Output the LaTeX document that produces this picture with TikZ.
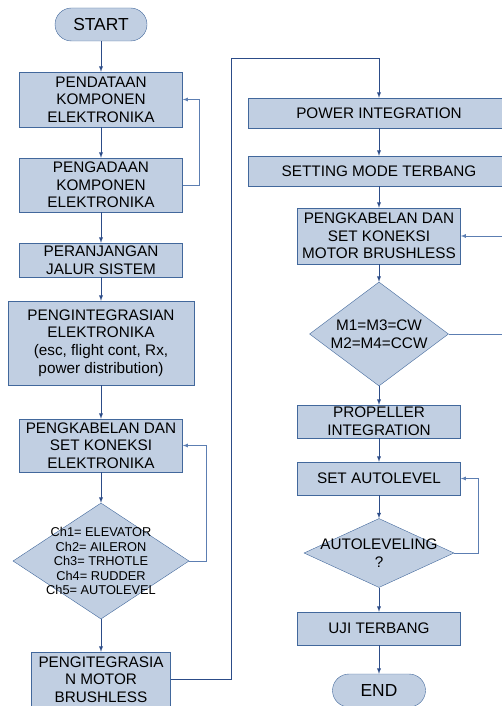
\documentclass[tikz,border=0pt]{standalone}
\usepackage{fontspec}
\setmainfont{Liberation Sans}
\usepackage{tikz}
\usetikzlibrary{shapes.geometric, arrows}
\definecolor{boxfill}{RGB}{193,207,226}
\definecolor{boxline}{RGB}{66,104,156}
\definecolor{flowline}{RGB}{44,76,136}
\definecolor{backline}{RGB}{92,126,178}
\tikzstyle{terminal} = [rectangle, rounded corners=16.5pt, minimum width=92pt, minimum height=33pt, text centered, draw=boxline, fill=boxfill, font=\fontsize{17.4}{20}\selectfont]
\tikzstyle{process} = [rectangle, minimum width=163pt, minimum height=34pt, align=center, inner sep=1pt, draw=boxline, fill=boxfill]
\tikzstyle{decision} = [diamond, inner sep=0pt, draw=boxline, fill=boxfill]
\tikzstyle{arrow} = [line width=0.9pt, draw=flowline, ->, >=latex]
\tikzstyle{feedback} = [line width=0.8pt, draw=backline, ->, >=latex]
% text that may run over the diamond border
\newcommand{\midtext}[1]{\raisebox{-0.36em}[0pt][0pt]{\makebox[0pt]{\begin{tabular}{@{}c@{}}#1\end{tabular}}}}

\begin{document}
\begin{tikzpicture}[x=1pt, y=-1pt, font=\fontsize{15.3}{17.6}\selectfont]
\useasboundingbox (0,0) rectangle (501,706);
% left column
\node (start) [terminal] at (101,24.5) {START};
\node (pendataan) [process, minimum height=55pt] at (101,99.5) {PENDATAAN\\KOMPONEN\\ELEKTRONIKA};
\node (pengadaan) [process, minimum height=54pt] at (101,185) {PENGADAAN\\KOMPONEN\\ELEKTRONIKA};
\node (jalur) [process] at (101,260) {PERANJANGAN\\JALUR SISTEM};
\node (integrasi) [process, minimum width=186pt, minimum height=84pt] at (101,343) {PENGINTEGRASIAN\\ELEKTRONIKA\\(esc, flight cont, Rx,\\power distribution)};
\node (kabel1) [process, minimum height=53pt] at (101,445.5) {PENGKABELAN DAN\\SET KONEKSI\\ELEKTRONIKA};
\node (channel) [decision, minimum width=176pt, minimum height=116pt] at (101,561) {\fontsize{12.8}{14.5}\selectfont\midtext{Ch1= ELEVATOR\\Ch2= AILERON\\Ch3= TRHOTLE\\Ch4= RUDDER\\Ch5= AUTOLEVEL}};
\node (motor) [process, minimum width=139pt, minimum height=55pt] at (101,679.5) {PENGITEGRASIA\\N MOTOR\\BRUSHLESS};
% right column
\node (power) [process, minimum width=262pt, minimum height=30pt] at (379,113) {POWER INTEGRATION};
\node (mode) [process, minimum width=262pt, minimum height=30pt] at (379,171) {SETTING MODE TERBANG};
\node (kabel2) [process, minimum height=56pt] at (379,236) {PENGKABELAN DAN\\SET KONEKSI\\MOTOR BRUSHLESS};
\node (arah) [decision, minimum width=139pt, minimum height=104pt] at (379,334) {\midtext{M1=M3=CW\\M2=M4=CCW}};
\node (propeller) [process, minimum height=33pt] at (379,421.5) {PROPELLER\\INTEGRATION};
\node (autolevel) [process, minimum height=33pt] at (379,478.5) {SET AUTOLEVEL};
\node (cek) [decision, minimum width=150pt, minimum height=69pt] at (379,553) {\midtext{AUTOLEVELING\\?}};
\node (uji) [process, minimum height=33pt] at (379,628.5) {UJI TERBANG};
\node (end) [terminal, minimum width=93pt] at (379,690.5) {END};

\draw [arrow] (start) -- (pendataan);
\draw [arrow] (pendataan) -- (pengadaan);
\draw [arrow] (pengadaan) -- (jalur);
\draw [arrow] (jalur) -- (integrasi);
\draw [arrow] (integrasi) -- (kabel1);
\draw [arrow] (kabel1) -- (channel);
\draw [arrow] (channel) -- (motor);
\draw [feedback] (pengadaan.east) -- ++(17,0) |- (pendataan.east);
\draw [feedback] (channel.east) -- ++(17,0) |- (kabel1.east);
\draw [arrow] (motor.east) -- ++(61,0) |- ([yshift=39pt]power.north) -- (power.north);
\draw [arrow] (power) -- (mode);
\draw [arrow] (mode) -- (kabel2);
\draw [arrow] (kabel2) -- (arah);
\draw [arrow] (arah) -- (propeller);
\draw [arrow] (propeller) -- (autolevel);
\draw [arrow] (autolevel) -- (cek);
\draw [arrow] (cek) -- (uji);
\draw [arrow] (uji) -- (end);
\draw [feedback] (arah.east) -- ++(56,0) |- (kabel2.east);
\draw [feedback] (cek.east) -- ++(24,0) |- (autolevel.east);
\end{tikzpicture}
\end{document}
